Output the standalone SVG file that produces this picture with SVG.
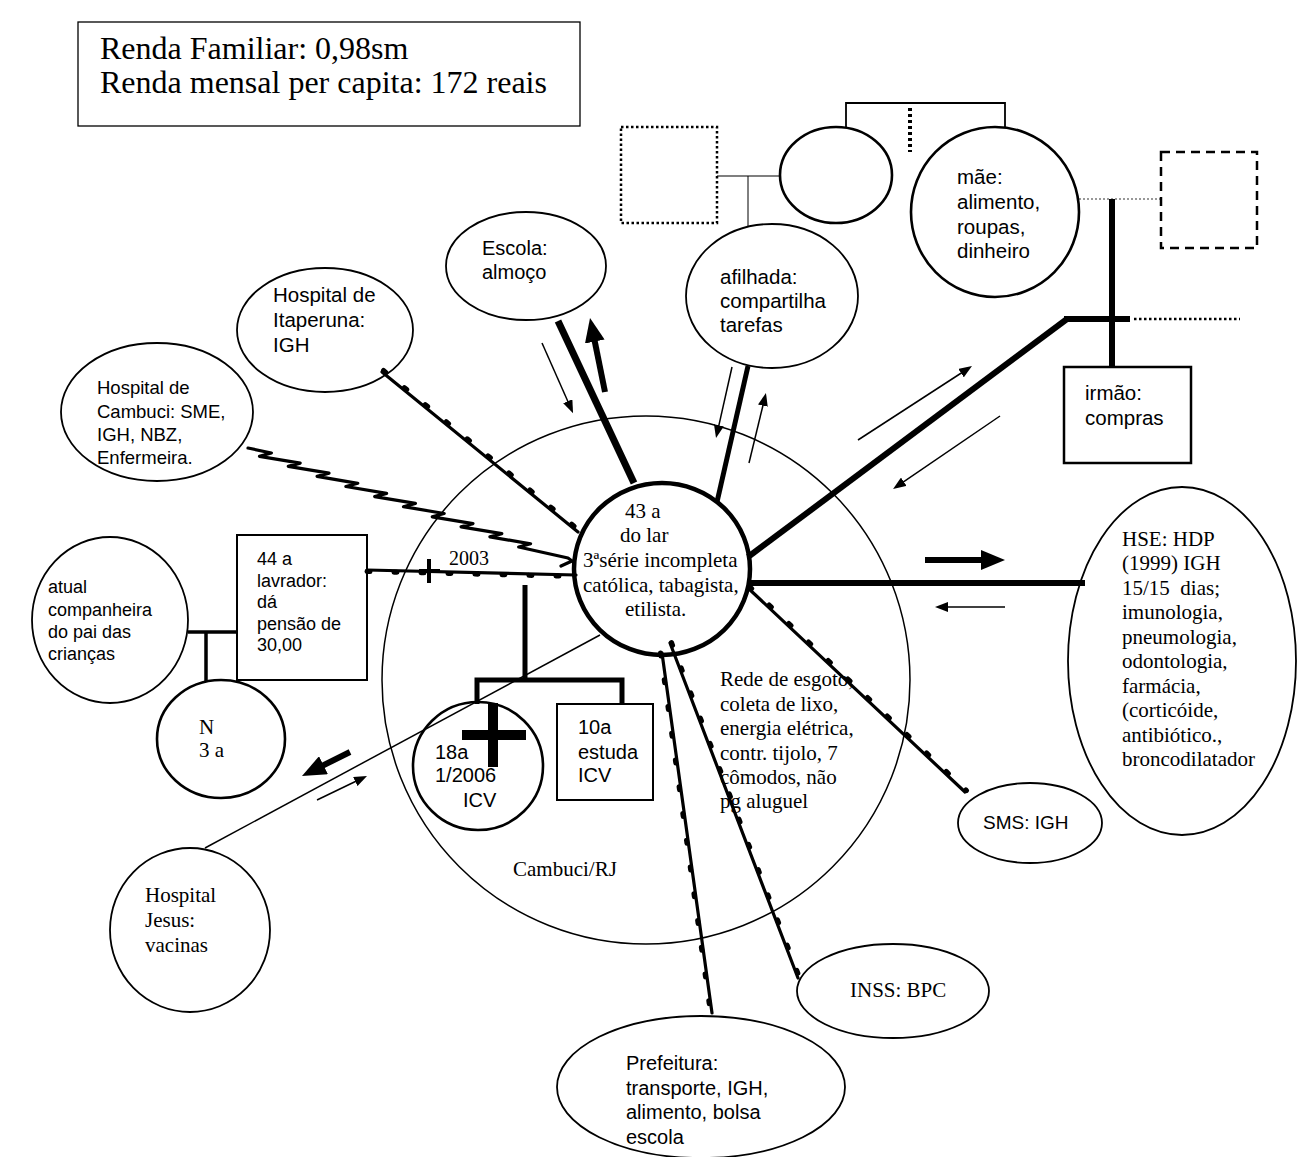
<svg xmlns="http://www.w3.org/2000/svg" width="1302" height="1157" viewBox="0 0 1302 1157">
<defs>
<style>
.s{font-family:"Liberation Sans",Arial,sans-serif;fill:#000}
.t{font-family:"Liberation Serif","Times New Roman",serif;fill:#000}
.o{fill:none;stroke:#000;stroke-width:1.8}
.k{fill:none;stroke:#000;stroke-width:2.6}
.w{fill:none;stroke:#000;stroke-width:3.2;stroke-linejoin:round;stroke-linecap:round}
.wb{fill:none;stroke:#000;stroke-width:5;stroke-dasharray:3 24;stroke-linecap:round}
.th{fill:none;stroke:#000;stroke-width:6}
.tn{fill:none;stroke:#000;stroke-width:1.5}
</style>
<marker id="ah" markerUnits="userSpaceOnUse" markerWidth="14" markerHeight="10" refX="3" refY="5" orient="auto"><path d="M0,0 L13,5 L0,10 z"/></marker>
<marker id="ahb" markerUnits="userSpaceOnUse" markerWidth="25" markerHeight="20" refX="8" refY="10" orient="auto"><path d="M0,0 L24,10 L0,20 z"/></marker>
</defs>
<rect width="1302" height="1157" fill="#fff"/>

<g id="renda">
<rect x="78" y="22" width="502" height="104" fill="none" stroke="#000" stroke-width="1.3"/>
<text class="t" font-size="32" x="100" y="59">Renda Familiar: 0,98sm</text>
<text class="t" font-size="32" x="100" y="93">Renda mensal per capita: 172 reais</text>
</g>

<g id="cambuci-rj">
<circle cx="646" cy="680" r="264" fill="none" stroke="#000" stroke-width="1.5"/>
<text class="t" font-size="21" x="513" y="876">Cambuci/RJ</text>
</g>

<g id="connectors">
<path d="M846,127 L846,103 L1005,103 L1005,128" fill="none" stroke="#000" stroke-width="1.8"/>
<line x1="910" y1="108" x2="910" y2="152" stroke="#000" stroke-width="4" stroke-dasharray="3 3"/>
<line x1="717" y1="176" x2="780" y2="176" stroke="#555" stroke-width="1.5"/>
<line x1="748" y1="176" x2="748" y2="226" stroke="#000" stroke-width="1"/>
<line x1="1079" y1="199" x2="1161" y2="199" stroke="#777" stroke-width="1.3" stroke-dasharray="2 2"/>
<line x1="1112" y1="199" x2="1112" y2="367" class="th"/>
<line x1="1064" y1="319" x2="1130" y2="319" class="th"/>
<line x1="1134" y1="319" x2="1240" y2="319" stroke="#000" stroke-width="2.5" stroke-dasharray="2.5 2.5"/>
<line x1="748" y1="557" x2="1067" y2="319" class="th"/>
<line x1="558" y1="321" x2="634" y2="483" stroke="#000" stroke-width="7"/>
<line x1="605" y1="392" x2="593.2" y2="333.7" class="th" marker-end="url(#ahb)"/>
<line x1="542" y1="343" x2="569" y2="404" class="tn" marker-end="url(#ah)"/>
<line x1="748" y1="366" x2="717" y2="502" stroke="#000" stroke-width="5"/>
<line x1="732" y1="367" x2="718.2" y2="428.3" class="tn" marker-end="url(#ah)"/>
<line x1="749" y1="463" x2="763.6" y2="402.7" class="tn" marker-end="url(#ah)"/>
<line x1="858" y1="440" x2="963.6" y2="371.5" class="tn" marker-end="url(#ah)"/>
<line x1="1000" y1="416" x2="901.3" y2="483.4" class="tn" marker-end="url(#ah)"/>
<line x1="750" y1="583" x2="1085" y2="583" class="th"/>
<line x1="925" y1="560" x2="989" y2="560" class="th" marker-end="url(#ahb)"/>
<line x1="1005" y1="607" x2="945" y2="607" class="tn" marker-end="url(#ah)"/>
<line x1="382" y1="372" x2="578" y2="532" class="w"/>
<line x1="383.5" y1="370.5" x2="579.5" y2="530.5" class="wb"/>
<path d="M248,448 L271.4,453 L259.5,456.3 L300.2,463.1 L288.3,466.4 L329,473.2 L317.1,476.4 L357.8,483.3 L345.9,486.5 L386.6,493.4 L374.7,496.6 L415.4,503.4 L403.5,506.7 L444.2,513.5 L432.3,516.8 L473,523.6 L461.1,526.8 L501.8,533.7 L489.9,536.9 L530.6,543.8 L518.7,547 L568,558 L572,561 L561,566" class="w" stroke-width="3.5"/>
<line x1="367" y1="570" x2="576" y2="575" class="w"/>
<line x1="367" y1="571.5" x2="576" y2="576.5" class="wb"/>
<line x1="748" y1="588" x2="965" y2="792" class="w"/>
<line x1="749.5" y1="586.5" x2="966.5" y2="790.5" class="wb"/>
<line x1="670" y1="643" x2="798" y2="978" class="w"/>
<line x1="671.5" y1="642.5" x2="799.5" y2="977.5" class="wb"/>
<line x1="662" y1="653" x2="712" y2="1013" class="w"/>
<line x1="660.5" y1="653" x2="710.5" y2="1013" class="wb"/>
<line x1="429" y1="559" x2="429" y2="583" stroke="#000" stroke-width="4"/>
<line x1="419" y1="571" x2="440" y2="571" stroke="#000" stroke-width="4"/>
<text class="t" font-size="20" x="449" y="565">2003</text>
<path d="M525,585 L525,680 M477,704 L477,680 L622,680 L622,704" fill="none" stroke="#000" stroke-width="5"/>
<path d="M188,632 L237,632 M206,632 L206,681" fill="none" stroke="#000" stroke-width="3.5"/>
<line x1="600" y1="635" x2="205" y2="848" stroke="#000" stroke-width="1.5"/>
<line x1="350" y1="752" x2="316.3" y2="768.8" class="th" marker-end="url(#ahb)"/>
<line x1="317" y1="800" x2="358" y2="780.3" class="tn" marker-end="url(#ah)"/>
</g>

<g id="ego">
<ellipse cx="662" cy="569" rx="88" ry="86" fill="none" stroke="#000" stroke-width="4.5"/>
<text class="t" font-size="21" x="625" y="518">43 a</text>
<text class="t" font-size="21" x="620" y="542">do lar</text>
<text class="t" font-size="21" x="583" y="567">3ªsérie incompleta</text>
<text class="t" font-size="21" x="583" y="592">católica, tabagista,</text>
<text class="t" font-size="21" x="625" y="616">etilista.</text>
</g>

<g id="moradia">
<text class="t" font-size="21" x="720" y="686">Rede de esgoto,</text>
<text class="t" font-size="21" x="720" y="711">coleta de lixo,</text>
<text class="t" font-size="21" x="720" y="735">energia elétrica,</text>
<text class="t" font-size="21" x="720" y="760">contr. tijolo, 7</text>
<text class="t" font-size="21" x="720" y="784">cômodos, não</text>
<text class="t" font-size="21" x="720" y="808">pg aluguel</text>
</g>

<g id="escola">
<ellipse cx="526" cy="266" rx="80" ry="54" class="o" stroke-width="1.5"/>
<text class="s" font-size="20" x="482" y="255">Escola:</text>
<text class="s" font-size="20" x="482" y="279">almoço</text>
</g>

<g id="itaperuna">
<ellipse cx="325" cy="330" rx="88" ry="62" class="o" stroke-width="1.5"/>
<text class="s" font-size="20.5" x="273" y="302">Hospital de</text>
<text class="s" font-size="20.5" x="273" y="327">Itaperuna:</text>
<text class="s" font-size="20.5" x="273" y="352">IGH</text>
</g>

<g id="hosp-cambuci">
<ellipse cx="157" cy="412" rx="96" ry="69" class="o" stroke-width="1.5"/>
<text class="s" font-size="18.5" x="97" y="394">Hospital de</text>
<text class="s" font-size="18.5" x="97" y="418">Cambuci: SME,</text>
<text class="s" font-size="18.5" x="97" y="441">IGH, NBZ,</text>
<text class="s" font-size="18.5" x="97" y="464">Enfermeira.</text>
</g>

<g id="afilhada">
<ellipse cx="772" cy="296" rx="86" ry="72" class="o"/>
<text class="s" font-size="20.5" x="720" y="284">afilhada:</text>
<text class="s" font-size="20.5" x="720" y="308">compartilha</text>
<text class="s" font-size="20.5" x="720" y="332">tarefas</text>
</g>

<g id="avo-paterno">
<rect x="621" y="127" width="96" height="96" fill="none" stroke="#000" stroke-width="2.5" stroke-dasharray="2.5 2.5"/>
</g>
<g id="irma">
<ellipse cx="836" cy="175" rx="56" ry="48" class="k"/>
</g>
<g id="mae">
<ellipse cx="995" cy="212" rx="84" ry="85" class="k"/>
<text class="s" font-size="20.5" x="957" y="184">mãe:</text>
<text class="s" font-size="20.5" x="957" y="209">alimento,</text>
<text class="s" font-size="20.5" x="957" y="234">roupas,</text>
<text class="s" font-size="20.5" x="957" y="258">dinheiro</text>
</g>
<g id="pai">
<rect x="1161" y="152" width="96" height="96" fill="none" stroke="#000" stroke-width="2.5" stroke-dasharray="9 6"/>
</g>
<g id="irmao">
<rect x="1064" y="367" width="127" height="96" fill="none" stroke="#000" stroke-width="2.5"/>
<text class="s" font-size="20.5" x="1085" y="400">irmão:</text>
<text class="s" font-size="20.5" x="1085" y="425">compras</text>
</g>

<g id="hse">
<ellipse cx="1182" cy="661" rx="114" ry="174" class="o"/>
<text class="t" font-size="21" x="1122" y="546">HSE: HDP</text>
<text class="t" font-size="21" x="1122" y="570">(1999) IGH</text>
<text class="t" font-size="21" x="1122" y="595">15/15&#160; dias;</text>
<text class="t" font-size="21" x="1122" y="619">imunologia,</text>
<text class="t" font-size="21" x="1122" y="644">pneumologia,</text>
<text class="t" font-size="21" x="1122" y="668">odontologia,</text>
<text class="t" font-size="21" x="1122" y="693">farmácia,</text>
<text class="t" font-size="21" x="1122" y="717">(corticóide,</text>
<text class="t" font-size="21" x="1122" y="742">antibiótico.,</text>
<text class="t" font-size="21" x="1122" y="766">broncodilatador</text>
</g>

<g id="sms">
<ellipse cx="1030" cy="823" rx="72" ry="40" class="o"/>
<text class="s" font-size="19" x="983" y="829">SMS: IGH</text>
</g>

<g id="inss">
<ellipse cx="893" cy="991" rx="96" ry="47" class="o"/>
<text class="t" font-size="21" x="850" y="997">INSS: BPC</text>
</g>

<g id="prefeitura">
<ellipse cx="701" cy="1087" rx="144" ry="71" class="o"/>
<text class="s" font-size="20" x="626" y="1070">Prefeitura:</text>
<text class="s" font-size="20" x="626" y="1095">transporte, IGH,</text>
<text class="s" font-size="20" x="626" y="1119">alimento, bolsa</text>
<text class="s" font-size="20" x="626" y="1144">escola</text>
</g>

<g id="jesus">
<ellipse cx="190" cy="930" rx="80" ry="82" class="o"/>
<text class="t" font-size="21" x="145" y="902">Hospital</text>
<text class="t" font-size="21" x="145" y="927">Jesus:</text>
<text class="t" font-size="21" x="145" y="952">vacinas</text>
</g>

<g id="companheira">
<ellipse cx="110" cy="620" rx="78" ry="83" class="o" stroke-width="1.4"/>
<text class="s" font-size="18" x="48" y="593">atual</text>
<text class="s" font-size="18" x="48" y="616">companheira</text>
<text class="s" font-size="18" x="48" y="638">do pai das</text>
<text class="s" font-size="18" x="48" y="660">crianças</text>
</g>

<g id="pai-criancas">
<rect x="237" y="535" width="130" height="145" fill="none" stroke="#000" stroke-width="2"/>
<text class="s" font-size="18" x="257" y="565">44 a</text>
<text class="s" font-size="18" x="257" y="587">lavrador:</text>
<text class="s" font-size="18" x="257" y="608">dá</text>
<text class="s" font-size="18" x="257" y="630">pensão de</text>
<text class="s" font-size="18" x="257" y="651">30,00</text>
</g>

<g id="n">
<ellipse cx="221" cy="739" rx="64" ry="59" class="k"/>
<text class="t" font-size="21" x="199" y="734">N</text>
<text class="t" font-size="21" x="199" y="757">3 a</text>
</g>

<g id="filha-18">
<ellipse cx="478" cy="766" rx="65" ry="64" class="k"/>
<text class="s" font-size="20" x="435" y="759">18a</text>
<text class="s" font-size="20" x="435" y="782">1/2006</text>
<text class="s" font-size="20" x="463" y="807">ICV</text>
<rect x="488" y="703" width="10" height="64"/>
<rect x="462" y="730" width="64" height="10"/>
</g>

<g id="filho-10">
<rect x="557" y="704" width="96" height="96" fill="none" stroke="#000" stroke-width="2"/>
<text class="s" font-size="20" x="578" y="734">10a</text>
<text class="s" font-size="20" x="578" y="759">estuda</text>
<text class="s" font-size="20" x="578" y="782">ICV</text>
</g>
</svg>
